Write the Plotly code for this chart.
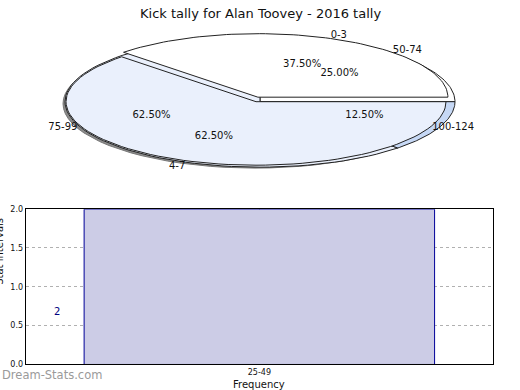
import math
import plotly.graph_objects as go

# ---- data ----
title_text = "Kick tally for Alan Toovey - 2016 tally"
pie_a_labels = ["0-3", "4-7"]
pie_a_values = [3, 5]
pie_a_colors = ["#ffffff", "#eaf0fc"]
pie_b_labels = ["50-74", "75-99", "100-124"]
pie_b_values = [2, 5, 1]
pie_b_colors = ["#ffffff", "#eaf0fc", "#c6d8f5"]

bar_categories = ["25-49"]
bar_values = [2]
y_ticks = [0.0, 0.5, 1.0, 1.5, 2.0]

W, H = 520, 390
fig = go.Figure()


def wedge(cx, cy, rx, ry, a0, a1, n=80):
    xs, ys = [cx], [cy]
    for i in range(n + 1):
        t = math.radians(a0 + (a1 - a0) * i / n)
        xs.append(cx + rx * math.cos(t))
        ys.append(cy - ry * math.sin(t))
    xs.append(cx)
    ys.append(cy)
    return xs, ys


def add_pie(values, colors, cx, cy, rx, ry, explode=None, line_w=1.0):
    total = sum(values)
    start = 0.0
    for i, v in enumerate(values):
        span = 360.0 * v / total
        ox, oy = 0.0, 0.0
        if explode and explode[i]:
            mid = math.radians(start + span / 2)
            ox = explode[i] * math.cos(mid)
            oy = -explode[i] * math.sin(mid)
        xs, ys = wedge(cx + ox, cy + oy, rx, ry, start, start + span)
        fig.add_trace(go.Scatter(x=xs, y=ys, mode="lines", fill="toself",
                                 fillcolor=colors[i],
                                 line=dict(color="#222222", width=line_w),
                                 xaxis="x2", yaxis="y2", hoverinfo="skip",
                                 showlegend=False))
        start += span


def add_labels(labels, values, cx, cy, rx, ry):
    total = sum(values)
    start = 0.0
    lx, ly, lt, px, py, pt = [], [], [], [], [], []
    for lab, v in zip(labels, values):
        span = 360.0 * v / total
        mid = math.radians(start + span / 2)
        lx.append(cx + 1.1 * rx * math.cos(mid))
        ly.append(cy - 1.1 * ry * math.sin(mid))
        lt.append(lab)
        px.append(cx + 0.6 * rx * math.cos(mid))
        py.append(cy - 0.6 * ry * math.sin(mid))
        pt.append("%.2f%%" % (100.0 * v / total))
        start += span
    fig.add_trace(go.Scatter(x=lx + px, y=ly + py, text=lt + pt, mode="text",
                             textfont=dict(family="DejaVu Sans", size=10, color="#111111"),
                             xaxis="x2", yaxis="y2", hoverinfo="skip",
                             showlegend=False))


CX, CY, RX, RY = 258, 99, 192, 66

# ---- bar chart (drawn in first subplot) ----
fig.add_trace(go.Bar(x=bar_categories, y=bar_values, width=0.75,
                     marker=dict(color="#ccccE6", line=dict(color="#000099", width=1)),
                     xaxis="x", yaxis="y", hoverinfo="skip", showlegend=False))

# shadow
sx, sy = wedge(CX - 3, CY + 3, RX, RY, 0, 360)
fig.add_trace(go.Scatter(x=sx, y=sy, mode="lines", fill="toself", fillcolor="#8a8a8a",
                         line=dict(color="#777777", width=1), xaxis="x2", yaxis="y2",
                         hoverinfo="skip", showlegend=False))
add_pie(pie_b_values, pie_b_colors, CX + 2, CY + 1, RX + 3, RY + 1)
add_pie(pie_a_values, pie_a_colors, CX - 2, CY + 1, RX - 2, RY - 1, explode=[5, 0])
add_labels(pie_b_labels, pie_b_values, CX, CY, RX, RY)
add_labels(pie_a_labels, pie_a_values, CX, CY, RX, RY)

x0p, x1p = 25.7 / W, 493 / W
y0p, y1p = (H - 369) / H, (H - 210) / H

fig.update_layout(
    width=W, height=H, autosize=False, margin=dict(l=0, r=0, t=0, b=0),
    paper_bgcolor="white", plot_bgcolor="rgba(0,0,0,0)",
    font=dict(family="DejaVu Sans", color="#111111"),
    xaxis=dict(domain=[x0p, x1p], range=[-0.5, 0.5], type="category", anchor="y",
               showline=True, mirror=True, linecolor="black", linewidth=1,
               showgrid=True, gridcolor="#b0b0b0", griddash="dot", gridwidth=1,
               ticks="", tickfont=dict(size=8, family="DejaVu Sans"), zeroline=False),
    yaxis=dict(domain=[y0p, y1p], range=[0, 2], tickvals=y_ticks, tickformat=".1f", anchor="x",
               showline=True, mirror=True, linecolor="black", linewidth=1,
               showgrid=True, gridcolor="#b0b0b0", griddash="dot", gridwidth=1,
               ticks="", tickfont=dict(size=8, family="DejaVu Sans"), zeroline=False),
    xaxis2=dict(domain=[0, 1], range=[0, W], visible=False, anchor="y2"),
    yaxis2=dict(domain=[0, 1], range=[H, 0], visible=False, anchor="x2"),
    annotations=[
        dict(text=title_text, x=0.5, y=1 - 10 / H, xref="paper", yref="paper",
             yanchor="middle", showarrow=False,
             font=dict(size=13, family="DejaVu Sans", color="#111111")),
        dict(text=str(bar_values[0]), x=-0.433, y=0.68, xref="x", yref="y",
             showarrow=False, font=dict(size=10, color="#000080")),
        dict(text="Stat intervals", x=0, y=(H - 290) / H, xref="paper", yref="paper",
             textangle=-90, showarrow=False, xanchor="center", xshift=0,
             font=dict(size=10, color="#111111")),
        dict(text="Frequency", x=(x0p + x1p) / 2, y=(H - 382) / H, xref="paper", yref="paper",
             yanchor="top", showarrow=False, font=dict(size=10, color="#111111")),
        dict(text="Dream-Stats.com", x=0, y=(H - 380) / H, xref="paper", yref="paper",
             xanchor="left", yanchor="middle", showarrow=False,
             font=dict(size=11.5, color="#9a9a9a", family="DejaVu Sans")),
    ],
)

fig.write_html("out.html", config={"responsive": False, "displayModeBar": False},
               post_script="document.body.style.margin='0';document.body.style.overflow='hidden';")
